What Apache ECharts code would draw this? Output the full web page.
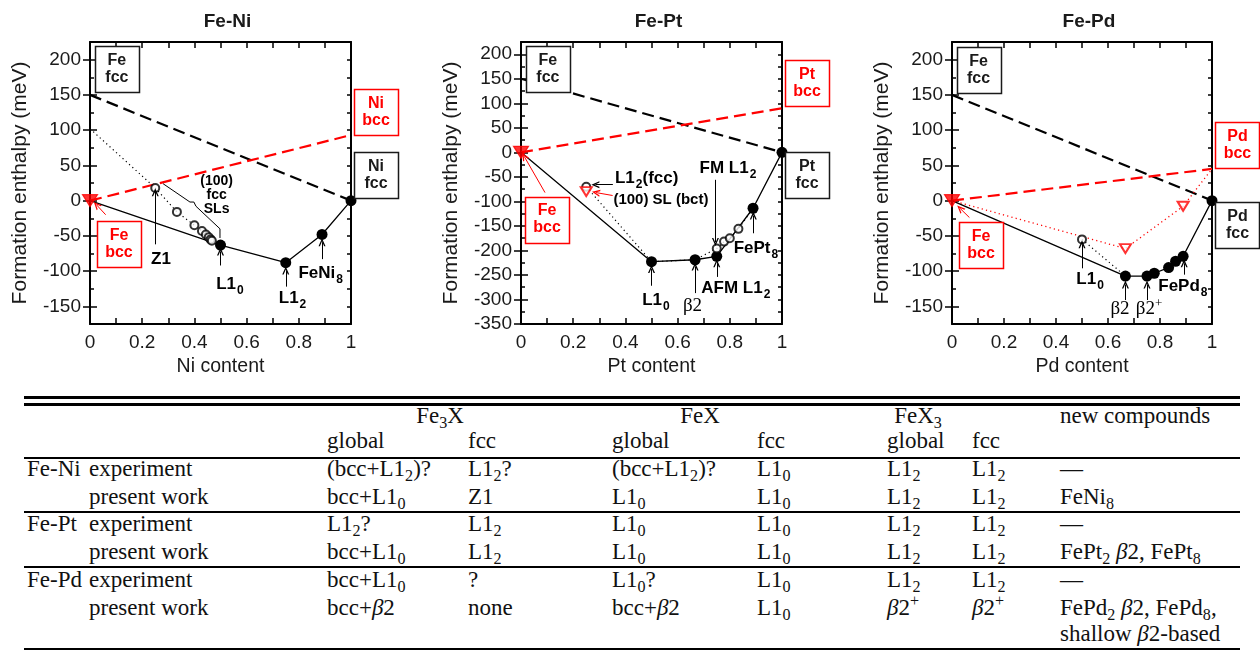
<!DOCTYPE html>
<html>
<head>
<meta charset="utf-8">
<script src="https://cdn.jsdelivr.net/npm/echarts@6/dist/echarts.min.js"></script>
<style>
html, body { margin: 0; padding: 0; background: #fff; }
#page { position: relative; width: 1260px; height: 651px; overflow: hidden; }
#chart { position: absolute; left: 0; top: 0; width: 1260px; height: 390px; }
.cell { position: absolute; font-family: "Liberation Serif", "DejaVu Serif", serif; font-size: 23px; color: #111; white-space: nowrap; line-height: 24px; }
.cell sub { font-size: 0.7em; vertical-align: -0.3em; line-height: 0; }
.cell sup { font-size: 0.7em; vertical-align: 0.55em; line-height: 0; }
.rule { position: absolute; left: 24px; width: 1216px; background: #000; }
</style>
</head>
<body>
<div id="page">
  <div id="chart"></div>
  <div id="table"></div>
</div>
<script>
// values, formation enthalpy in meV vs. content of X
var titles = ['Fe-Ni', 'Fe-Pt', 'Fe-Pd'];
var xNames = ['Ni content', 'Pt content', 'Pd content'];
var yMins = [-175, -350, -175];
var yMaxs = [225, 225, 225];
var yTickLabels = [
  [-150, -100, -50, 0, 50, 100, 150, 200],
  [-350, -300, -250, -200, -150, -100, -50, 0, 50, 100, 150, 200],
  [-150, -100, -50, 0, 50, 100, 150, 200]
];

// Fe-Ni
var niFccLine = [[0, 150], [1, 0]];
var niBccLine = [[0, 0], [1, 93]];
var niHull = [[0, 0], [0.5, -63], [0.75, -88], [0.889, -48], [1, 0]];
var niSLs = [[0.25, 18], [0.333, -16], [0.4, -35], [0.429, -43], [0.444, -48], [0.455, -52], [0.462, -55], [0.467, -57]];
var niSLpath = [[0, 102], [0.25, 18], [0.333, -16], [0.4, -35], [0.429, -43], [0.444, -48], [0.455, -52], [0.462, -55], [0.467, -57], [0.5, -63]];

// Fe-Pt
var ptFccLine = [[0, 150], [1, 0]];
var ptBccLine = [[0, 0], [1, 90]];
var ptHull = [[0, 0], [0.5, -223], [0.667, -219], [0.75, -212], [0.889, -114], [1, 0]];
var ptFccOpen = [[0.25, -70], [0.75, -196], [0.778, -182], [0.8, -175], [0.833, -156]];
var ptFccPath = [[0.25, -70], [0.5, -223], [0.667, -219], [0.75, -196], [0.778, -182], [0.8, -175], [0.833, -156], [0.889, -114]];
var ptBct = [[0.25, -80]];

// Fe-Pd
var pdFccLine = [[0, 150], [1, 0]];
var pdBccLine = [[0, 0], [1, 45]];
var pdHull = [[0, 0], [0.667, -107], [0.75, -107], [0.778, -103], [0.833, -95], [0.86, -86], [0.889, -79], [1, 0]];
var pdFccOpen = [[0.5, -55]];
var pdFccPath = [[0.5, -55], [0.667, -107]];
var pdBct = [[0.667, -68], [0.889, -8]];
var pdBctPath = [[0, 0], [0.667, -68], [0.889, -8], [1, 45]];

var origin = [[0, 0]];

// table below the plots
var tableGroups = ['Fe<sub>3</sub>X', 'FeX', 'FeX<sub>3</sub>'];
var tableSubHeads = ['global', 'fcc', 'global', 'fcc', 'global', 'fcc'];
var tableRows = [
  ['Fe-Ni', 'experiment', '(bcc+L1<sub>2</sub>)?', 'L1<sub>2</sub>?', '(bcc+L1<sub>2</sub>)?', 'L1<sub>0</sub>', 'L1<sub>2</sub>', 'L1<sub>2</sub>', '—'],
  ['', 'present work', 'bcc+L1<sub>0</sub>', 'Z1', 'L1<sub>0</sub>', 'L1<sub>0</sub>', 'L1<sub>2</sub>', 'L1<sub>2</sub>', 'FeNi<sub>8</sub>'],
  ['Fe-Pt', 'experiment', 'L1<sub>2</sub>?', 'L1<sub>2</sub>', 'L1<sub>0</sub>', 'L1<sub>0</sub>', 'L1<sub>2</sub>', 'L1<sub>2</sub>', '—'],
  ['', 'present work', 'bcc+L1<sub>0</sub>', 'L1<sub>2</sub>', 'L1<sub>0</sub>', 'L1<sub>0</sub>', 'L1<sub>2</sub>', 'L1<sub>2</sub>', 'FePt<sub>2</sub> <i>β</i>2, FePt<sub>8</sub>'],
  ['Fe-Pd', 'experiment', 'bcc+L1<sub>0</sub>', '?', 'L1<sub>0</sub>?', 'L1<sub>0</sub>', 'L1<sub>2</sub>', 'L1<sub>2</sub>', '—'],
  ['', 'present work', 'bcc+<i>β</i>2', 'none', 'bcc+<i>β</i>2', 'L1<sub>0</sub>', '<i>β</i>2<sup>+</sup>', '<i>β</i>2<sup>+</sup>', 'FePd<sub>2</sub> <i>β</i>2, FePd<sub>8</sub>,'],
  ['', '', '', '', '', '', '', '', 'shallow <i>β</i>2-based']
];

var sans = '"Liberation Sans", Arial, Helvetica, sans-serif';
var serif = '"Liberation Serif", "DejaVu Serif", serif';
var RED = '#ff0000';
var INK = '#1a1a1a';

var grids = [
  {left: 90, top: 42, width: 261, height: 282},
  {left: 521, top: 42, width: 261, height: 282},
  {left: 952, top: 42, width: 260, height: 282}
];

var xAxes = [], yAxes = [];
grids.forEach(function (gr, g) {
  ['bottom', 'top'].forEach(function (pos) {
    xAxes.push({
      type: 'value', gridIndex: g, position: pos, min: 0, max: 1, interval: 0.1,
      name: pos === 'bottom' ? xNames[g] : '', nameLocation: 'middle', nameGap: 31,
      nameTextStyle: {fontSize: 19.5, color: INK, fontFamily: sans},
      axisLine: {show: true, onZero: false, lineStyle: {color: '#000', width: 2}},
      axisTick: {show: true, inside: true, length: 6, lineStyle: {color: '#000', width: 1.5}},
      axisLabel: {
        show: pos === 'bottom', fontSize: 19, color: INK, fontFamily: sans, margin: 9,
        formatter: function (v) { var k = Math.round(v * 10); return k % 2 ? '' : String(k / 10); }
      },
      splitLine: {show: false}
    });
  });
  [['left', true], ['right', false]].forEach(function (s) {
    // small ticks every 25
    yAxes.push({
      type: 'value', gridIndex: g, position: s[0], min: yMins[g], max: yMaxs[g], interval: 25,
      name: s[1] ? 'Formation enthalpy (meV)' : '', nameLocation: 'middle', nameGap: 59, nameRotate: 90,
      nameTextStyle: {fontSize: 21, color: INK, fontFamily: sans},
      axisLine: {show: true, onZero: false, lineStyle: {color: '#000', width: 2}},
      axisTick: {show: true, inside: true, length: 4, lineStyle: {color: '#000', width: 1.5}},
      axisLabel: {show: s[1], customValues: yTickLabels[g], fontSize: 19, color: INK, fontFamily: sans, margin: 9},
      splitLine: {show: false}
    });
    // long ticks every 50
    yAxes.push({
      type: 'value', gridIndex: g, position: s[0], min: yMins[g], max: yMaxs[g],
      axisLine: {show: false},
      axisTick: {show: true, inside: true, length: 7, customValues: yTickLabels[g], lineStyle: {color: '#000', width: 1.5}},
      axisLabel: {show: false},
      splitLine: {show: false}
    });
  });
});

var series = [];
function add(g, s) {
  s.xAxisIndex = 2 * g;
  s.yAxisIndex = 4 * g;
  s.silent = true;
  series.push(s);
  return s;
}
function line(g, data, color, type, width, z) {
  return add(g, {type: 'line', data: data, symbol: 'none', lineStyle: {color: color, type: type, width: width}, z: z || 2});
}
function marks(g, data, symbol, size, color, rotate, z) {
  return add(g, {
    type: 'scatter', data: data, symbol: symbol, symbolSize: size, symbolRotate: rotate || 0,
    itemStyle: {color: color, borderColor: color, borderWidth: 1.2}, z: z || 4
  });
}
function hull(g, data) {
  return add(g, {
    type: 'line', data: data, symbol: 'circle', showSymbol: true,
    symbolSize: function (v) { return v[0] === 0 ? 0 : 11; },
    itemStyle: {color: '#000'}, lineStyle: {color: '#000', width: 1.3}, z: 3
  });
}
var chevron = 'path://M0,10L5,0L10,10L8,10L5,3.8L2,10Z';
function arrows(s, list, color) {
  s.markLine = {
    silent: true, symbol: ['none', chevron], symbolSize: [7, 8],
    lineStyle: {type: 'solid', color: color, width: 1}, label: {show: false},
    data: list.map(function (a) { return [{coord: a[0]}, {coord: a[1]}]; })
  };
}

var fccDash = [12, 6];
// Fe-Ni
line(0, niFccLine, '#000', fccDash, 2.2);
var niRed = line(0, niBccLine, RED, fccDash, 2.2);
line(0, niSLpath, '#000', [1.2, 3.2], 1.2);
line(0, [[0.280, 24], [0.383, -2], [0.398, -2], [0.406, -8], [0.498, -40], [0.498, -53]], '#000', 'solid', 1);
var niH = hull(0, niHull);
marks(0, niSLs, 'emptyCircle', 8, '#000');
marks(0, origin, 'triangle', [15, 12], RED, 180, 6);
arrows(niH, [[[0.25, -62], [0.25, 12]], [[0.5, -92], [0.5, -72]], [[0.75, -122], [0.75, -99]], [[0.889, -83], [0.889, -59]]], '#000');
arrows(niRed, [[[0.06, -20], [0.025, -6]]], RED);

// Fe-Pt
line(1, ptFccLine, '#000', fccDash, 2.2);
var ptRed = line(1, ptBccLine, RED, fccDash, 2.2);
line(1, ptFccPath, '#000', [1.2, 3.2], 1.2);
var ptH = hull(1, ptHull);
marks(1, ptFccOpen, 'emptyCircle', 8, '#000');
marks(1, ptBct, 'emptyTriangle', [11, 9], RED, 180);
marks(1, origin, 'triangle', [15, 12], RED, 180, 6);
arrows(ptH, [[[0.352, -66], [0.285, -66]], [[0.745, -56], [0.745, -183]], [[0.89, -165], [0.89, -129]],
  [[0.5, -272], [0.5, -238]], [[0.667, -287], [0.667, -233]], [[0.75, -254], [0.75, -226]]], '#000');
arrows(ptRed, [[[0.092, -82], [0.012, -8]], [[0.351, -88], [0.287, -82]]], RED);

// Fe-Pd
line(2, pdFccLine, '#000', fccDash, 2.2);
var pdRed = line(2, pdBccLine, RED, fccDash, 2.2);
line(2, pdBctPath, RED, [1.2, 3.2], 1.3);
line(2, pdFccPath, '#000', [1.2, 3.2], 1.2);
var pdH = hull(2, pdHull);
marks(2, pdFccOpen, 'emptyCircle', 8, '#000');
marks(2, pdBct, 'emptyTriangle', [11, 9], RED, 180);
marks(2, origin, 'triangle', [15, 12], RED, 180, 6);
arrows(pdH, [[[0.5, -96], [0.5, -62]], [[0.667, -141], [0.667, -119]], [[0.75, -141], [0.75, -119]], [[0.893, -105], [0.893, -89]]], '#000');
arrows(pdRed, [[[0.067, -24], [0.031, -11]]], RED);

var chart = echarts.init(document.getElementById('chart'), null, {renderer: 'canvas'});
chart.setOption({
  animation: false,
  backgroundColor: '#fff',
  title: titles.map(function (t, i) {
    return {
      text: t, left: grids[i].left + grids[i].width / 2 + 2, top: 7, textAlign: 'center',
      textStyle: {fontSize: 19, fontWeight: 'bold', color: INK, fontFamily: sans}
    };
  }),
  grid: grids,
  xAxis: xAxes,
  yAxis: yAxes,
  series: series
});

// boxes and labels, placed in data coordinates
var boxes = [
  [0, 0.103, 186, 'Fe\nfcc', INK], [0, 0.111, -62, 'Fe\nbcc', RED], [0, 1.096, 126, 'Ni\nbcc', RED], [0, 1.096, 36, 'Ni\nfcc', INK],
  [1, 0.103, 170, 'Fe\nfcc', INK], [1, 0.100, -137, 'Fe\nbcc', RED], [1, 1.096, 142, 'Pt\nbcc', RED], [1, 1.096, -46, 'Pt\nfcc', INK],
  [2, 0.102, 185, 'Fe\nfcc', INK], [2, 0.112, -63, 'Fe\nbcc', RED], [2, 1.098, 79, 'Pd\nbcc', RED], [2, 1.098, -34.5, 'Pd\nfcc', INK]
];
var notes = [
  [0, 0.272, -83, '{b|Z1}', 'center'],
  [0, 0.485, 8, '{m|(100)}\n{m|fcc}\n{m|SLs}', 'center'],
  [0, 0.536, -119, '{b|L1}{s|0}', 'center'],
  [0, 0.776, -139, '{b|L1}{s|2}', 'center'],
  [0, 0.884, -103, '{b|FeNi}{s|8}', 'center'],
  [1, 0.360, -53, '{b|L1}{s|2}{b|(fcc)}', 'left'],
  [1, 0.354, -96, '{r|(100) SL (bct)}', 'left'],
  [1, 0.793, -32, '{b|FM L1}{s|2}', 'center'],
  [1, 0.900, -196, '{b|FePt}{s|8}', 'center'],
  [1, 0.517, -301, '{b|L1}{s|0}', 'center'],
  [1, 0.657, -313, '{g|β2}', 'center'],
  [1, 0.823, -277, '{b|AFM L1}{s|2}', 'center'],
  [2, 0.531, -112, '{b|L1}{s|0}', 'center'],
  [2, 0.646, -154, '{g|β2}', 'center'],
  [2, 0.758, -154, '{g|β2}{p|+}', 'center'],
  [2, 0.888, -122, '{b|FePd}{s|8}', 'center']
];
var rich = {
  b: {fontFamily: sans, fontWeight: 'bold', fontSize: 17, lineHeight: 20, color: INK},
  s: {fontFamily: sans, fontWeight: 'bold', fontSize: 12, lineHeight: 12, padding: [13, 0, 0, 1], color: INK},
  m: {fontFamily: sans, fontWeight: 'bold', fontSize: 14, lineHeight: 14, color: INK},
  r: {fontFamily: sans, fontWeight: 'bold', fontSize: 15, lineHeight: 18, color: RED},
  g: {fontFamily: serif, fontSize: 19, lineHeight: 20, color: '#555'},
  p: {fontFamily: serif, fontSize: 13, lineHeight: 13, padding: [0, 0, 12, 0], color: '#555'}
};
function toPx(g, p) {
  return chart.convertToPixel({xAxisIndex: 2 * g, yAxisIndex: 4 * g}, p);
}
var gfx = [];
boxes.forEach(function (b) {
  var p = toPx(b[0], [b[1], b[2]]);
  gfx.push({
    type: 'rect', silent: true, z: 99,
    shape: {x: Math.round(p[0] - 22) + 0.5, y: Math.round(p[1] - 23) + 0.5, width: 44, height: 46},
    style: {fill: '#fff', stroke: b[4], lineWidth: 1.5}
  });
  gfx.push({
    type: 'text', silent: true, z: 100, x: p[0], y: p[1],
    style: {text: b[3], fill: b[4], fontFamily: sans, fontWeight: 'bold', fontSize: 16, lineHeight: 17, align: 'center', verticalAlign: 'middle'}
  });
});
notes.forEach(function (n) {
  var p = toPx(n[0], [n[1], n[2]]);
  gfx.push({
    type: 'text', silent: true, z: 100, x: p[0], y: p[1],
    style: {text: n[3], rich: rich, align: n[4], verticalAlign: 'middle'}
  });
});
chart.setOption({graphic: gfx});

// table
var tableEl = document.getElementById('table');
var colX = [27, 89, 327, 468, 612, 757, 887, 972, 1060];
var groupX = [440, 700, 918];
var rowY = [469, 497, 524, 552, 580, 608, 634];
function put(x, y, html, centred) {
  var d = document.createElement('div');
  d.className = 'cell';
  d.innerHTML = html;
  d.style.left = x + 'px';
  d.style.top = (y - 12) + 'px';
  if (centred) d.style.transform = 'translateX(-50%)';
  tableEl.appendChild(d);
}
function rule(y, h) {
  var d = document.createElement('div');
  d.className = 'rule';
  d.style.top = (y - h / 2) + 'px';
  d.style.height = h + 'px';
  tableEl.appendChild(d);
}
rule(397.5, 2.4); rule(404.5, 2.4);
rule(458, 1.6); rule(512, 1.6); rule(567, 1.6); rule(649, 1.6);
tableGroups.forEach(function (t, i) { put(groupX[i], 416, t, true); });
put(colX[8], 416, 'new compounds');
tableSubHeads.forEach(function (t, i) { put(colX[i + 2], 441, t); });
tableRows.forEach(function (r, j) {
  r.forEach(function (t, i) { if (t) put(colX[i], rowY[j], t); });
});
</script>
</body>
</html>
